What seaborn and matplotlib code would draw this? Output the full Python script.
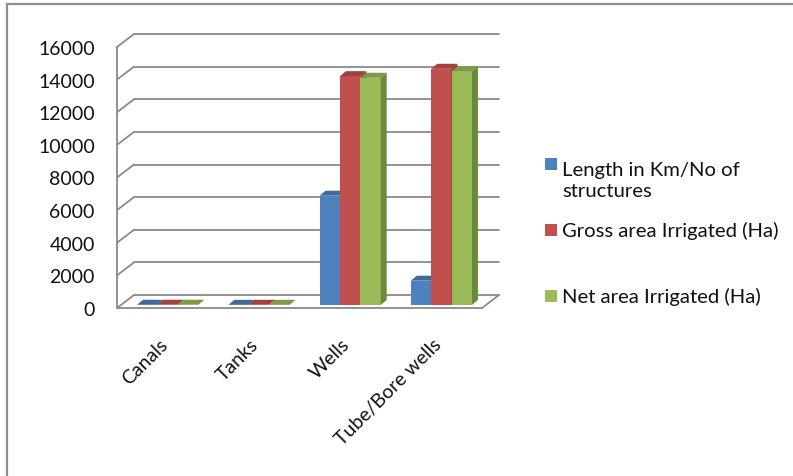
import matplotlib
matplotlib.use("Agg")
import matplotlib.pyplot as plt
from matplotlib.patches import Polygon, Rectangle
from matplotlib.lines import Line2D
from matplotlib.transforms import offset_copy, ScaledTranslation
import seaborn as sns
import pandas as pd

# ---- data -------------------------------------------------------------
categories = ["Canals", "Tanks", "Wells", "Tube/Bore wells"]
series_names = ["Length in Km/No of\nstructures",
                "Gross area Irrigated (Ha)",
                "Net area Irrigated (Ha)"]
length_km = [14, 10, 6700, 1490]
gross_area = [18, 14, 14030, 14480]
net_area = [16, 12, 13930, 14340]
y_ticks = [0, 2000, 4000, 6000, 8000, 10000, 12000, 14000, 16000]

front_colors = ["#4F81BD", "#C0504D", "#9BBB59"]
top_colors = ["#41699B", "#A2413E", "#7E9A46"]
side_colors = ["#385D8A", "#8C3836", "#6B8A3A"]
grid_color = "#8A8A8A"

df = pd.DataFrame({
    "Source": categories * 3,
    "Series": [s for s in series_names for _ in categories],
    "Value": length_km + gross_area + net_area,
})

sns.set_style("white")
plt.rcParams["font.family"] = ["Lato", "DejaVu Sans"]
FS_TICK = 14
FS_LEG = 14.6

W, H = 793, 477
fig = plt.figure(figsize=(W / 100, H / 100), dpi=100)
ax_left, ax_right, ax_top, ax_bottom = 117, 482, 48, 309
ax = fig.add_axes([ax_left / W, 1 - ax_bottom / H,
                   (ax_right - ax_left) / W, (ax_bottom - ax_top) / H])

sns.barplot(data=df, x="Source", y="Value", hue="Series",
            palette=front_colors, width=0.67, saturation=1,
            edgecolor="none", linewidth=0, legend=False, ax=ax)

ax.set_xlim(-0.5, len(categories) - 0.5)
ax.set_ylim(0, 16000)

# pixel -> data unit scale
ppx = (ax_right - ax_left) / len(categories)
ppy = (ax_bottom - ax_top) / 16000.0

# depth offsets (pixels): back wall, bar position inside the depth, bar depth
wall_dx, wall_dy = 17, 13
bar_fx, bar_fy = 5, 3
bar_dx, bar_dy = 6, 5

wall_tr = offset_copy(ax.transData, fig=fig, x=wall_dx, y=wall_dy, units="dots")
bar_tr = offset_copy(ax.transData, fig=fig, x=bar_fx, y=bar_fy, units="dots")

# back wall gridlines and left-wall diagonals
for yv in y_ticks:
    ax.plot([-0.5, len(categories) - 0.5], [yv, yv], color=grid_color,
            lw=1.3, transform=wall_tr, clip_on=False, zorder=0.5)
    ax.plot([-0.5, -0.5 + wall_dx / ppx], [yv, yv + wall_dy / ppy],
            color=grid_color, lw=1.3, clip_on=False, zorder=0.5)
# floor right edge
ax.plot([len(categories) - 0.5, len(categories) - 0.5 + wall_dx / ppx],
        [0, wall_dy / ppy], color=grid_color, lw=1.3, clip_on=False, zorder=0.5)

# 3D faces on each bar
bars = sorted([p for p in ax.patches if isinstance(p, Rectangle)],
              key=lambda p: p.get_x())
ddx, ddy = bar_dx / ppx, bar_dy / ppy
for i, bar in enumerate(bars):
    x0, w, h = bar.get_x(), bar.get_width(), bar.get_height()
    x1 = x0 + w
    hexcol = matplotlib.colors.to_hex(bar.get_facecolor()).upper()
    k = front_colors.index(hexcol) if hexcol in front_colors else i % 3
    z = 2 + i * 0.1
    bar.set_transform(bar_tr)
    bar.set_zorder(z)
    bar.set_clip_on(False)
    top = Polygon([(x0, h), (x1, h), (x1 + ddx, h + ddy), (x0 + ddx, h + ddy)],
                  closed=True, facecolor=top_colors[k], edgecolor="none",
                  transform=bar_tr, zorder=z + 0.05, clip_on=False)
    side = Polygon([(x1, 0), (x1, h), (x1 + ddx, h + ddy), (x1 + ddx, ddy)],
                   closed=True, facecolor=side_colors[k], edgecolor="none",
                   transform=bar_tr, zorder=z + 0.05, clip_on=False)
    ax.add_patch(top)
    ax.add_patch(side)

# axes styling
for s in ["top", "right"]:
    ax.spines[s].set_visible(False)
for s in ["left", "bottom"]:
    ax.spines[s].set_color(grid_color)
    ax.spines[s].set_linewidth(1.3)
    ax.spines[s].set_zorder(1)

ax.set_yticks(y_ticks)
ax.set_yticklabels([str(v) for v in y_ticks], fontsize=FS_TICK, color="#111111")
ax.tick_params(axis="y", length=6, width=1.3, color=grid_color, pad=10)

ax.set_xticks(range(len(categories)))
ax.set_xticklabels(categories, fontsize=FS_TICK, color="#111111",
                   rotation=45, ha="right", va="center", rotation_mode="anchor")
ax.tick_params(axis="x", which="major", length=0, pad=24)
ax.set_xticks([i - 0.5 for i in range(len(categories) + 1)], minor=True)
ax.tick_params(axis="x", which="minor", length=5, width=1.3,
               color=grid_color, direction="out")
for lab in ax.get_xticklabels():
    lab.set_transform(lab.get_transform() + ScaledTranslation(2 / 100, 0, fig.dpi_scale_trans))

ax.set_xlabel("")
ax.set_ylabel("")
ax.grid(False)

# legend: square aligned with the first text line
legend_first_baselines = [171, 237, 303]
line_step = 26
for name, col, base in zip(series_names, front_colors, legend_first_baselines):
    n_lines = name.count("\n") + 1
    fig.patches.append(Rectangle((545 / W, 1 - base / H), 12 / W, 12 / H,
                                 transform=fig.transFigure, facecolor=col,
                                 edgecolor="none"))
    last_base = base + (n_lines - 1) * line_step
    fig.text(562 / W, 1 - last_base / H, name, fontsize=FS_LEG, color="#111111",
             ha="left", va="baseline", linespacing=1.3)

# outer frame (top and left edges)
fig.add_artist(Line2D([7 / W, 7 / W], [0, 1 - 5 / H], transform=fig.transFigure,
                      color="#8C8C8C", lw=1.6))
fig.add_artist(Line2D([7 / W, 1], [1 - 5 / H, 1 - 5 / H], transform=fig.transFigure,
                      color="#8C8C8C", lw=1.6))

fig.savefig("out.png", dpi=100)
